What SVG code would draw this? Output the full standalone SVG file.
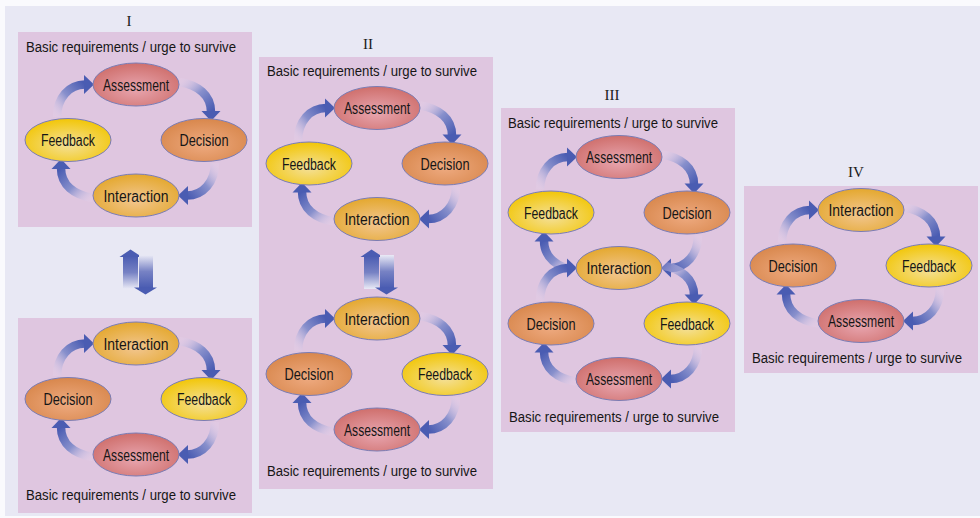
<svg xmlns="http://www.w3.org/2000/svg" xmlns:xlink="http://www.w3.org/1999/xlink" width="980" height="518" viewBox="0 0 980 518">
  <style>
    .lbl { font-family: 'Liberation Sans', Arial, sans-serif; font-size: 16px; fill: #161616; text-anchor: middle; }
    .base { font-family: 'Liberation Sans', Arial, sans-serif; font-size: 13.8px; fill: #161616; }
    .ttl { font-family: 'Liberation Serif', serif; font-size: 15px; fill: #1a1a1a; text-anchor: middle; }
    .panel { fill: #dfc6e0; }
    .node { stroke: #7a7cb4; stroke-width: 1; }
    .as { fill: url(#gAs); }
    .de { fill: url(#gDe); }
    .fe { fill: url(#gFe); }
    .in { fill: url(#gIn); }
    .head { fill: #4a5cb2; }
  </style>
  <defs>
    <radialGradient id="gAs" cx="0.5" cy="0.6" r="0.6">
      <stop offset="0" stop-color="#e8a6b0"/>
      <stop offset="1" stop-color="#cf6f6c"/>
    </radialGradient>
    <radialGradient id="gDe" cx="0.5" cy="0.6" r="0.6">
      <stop offset="0" stop-color="#eeaa80"/>
      <stop offset="1" stop-color="#d8874c"/>
    </radialGradient>
    <radialGradient id="gFe" cx="0.5" cy="0.6" r="0.6">
      <stop offset="0" stop-color="#f4e09a"/>
      <stop offset="1" stop-color="#f2c606"/>
    </radialGradient>
    <radialGradient id="gIn" cx="0.5" cy="0.6" r="0.6">
      <stop offset="0" stop-color="#f2c690"/>
      <stop offset="1" stop-color="#e4a82e"/>
    </radialGradient>
    <!-- curved arrow bands, pale at the tail and solid blue at the head -->
    <linearGradient id="bandA" x1="0" y1="1" x2="1" y2="0">
      <stop offset="0" stop-color="#e6d6ee" stop-opacity="0.2"/>
      <stop offset="0.5" stop-color="#8890cc"/>
      <stop offset="1" stop-color="#4a5cb2"/>
    </linearGradient>
    <linearGradient id="bandB" x1="0" y1="0" x2="1" y2="1">
      <stop offset="0" stop-color="#e6d6ee" stop-opacity="0.2"/>
      <stop offset="0.5" stop-color="#8890cc"/>
      <stop offset="1" stop-color="#4a5cb2"/>
    </linearGradient>
    <linearGradient id="shaftUp" x1="0" y1="0" x2="0" y2="1">
      <stop offset="0" stop-color="#4a5cb2"/>
      <stop offset="0.5" stop-color="#7782c4"/>
      <stop offset="1" stop-color="#eaeaf6"/>
    </linearGradient>
    <linearGradient id="shaftDown" x1="0" y1="0" x2="0" y2="1">
      <stop offset="0" stop-color="#eaeaf6"/>
      <stop offset="0.5" stop-color="#7782c4"/>
      <stop offset="1" stop-color="#4a5cb2"/>
    </linearGradient>
    <!-- arrow from the left node up to the top node -->
    <g id="arrA">
      <path d="M -79,-23 C -79,-42 -67,-55.5 -51,-55.5" fill="none" stroke="url(#bandA)" stroke-width="8.5"/>
      <path class="head" d="M -52,-65 L -42,-55.5 L -52,-46 Z"/>
    </g>
    <!-- arrow from the top node down to the right node -->
    <g id="arrB">
      <path d="M 43,-58 C 62,-55 75,-45 75,-28" fill="none" stroke="url(#bandB)" stroke-width="8.5"/>
      <path class="head" d="M 65.5,-29 L 75,-19 L 84.5,-29 Z"/>
    </g>
    <!-- paired up/down arrows between stacked cycles -->
    <g id="swap">
      <rect x="123" y="256" width="15" height="33" fill="url(#shaftUp)"/>
      <path class="head" d="M 119.5,257 L 130.5,249.5 L 142,257 Z"/>
      <rect x="139" y="255" width="14" height="33" fill="url(#shaftDown)"/>
      <path class="head" d="M 134,287.5 L 145.5,294.5 L 157,287.5 Z"/>
    </g>
  </defs>

  <!-- page -->
  <rect x="0" y="0" width="980" height="518" fill="#fafafd"/>
  <rect x="5" y="6" width="975" height="510" fill="#e8e8f4"/>

  <!-- panels -->
  <g id="panels">
    <rect class="panel" x="18" y="32" width="234" height="195"/>
    <rect class="panel" x="18" y="318" width="234" height="195"/>
    <rect class="panel" x="259" y="57" width="234" height="432"/>
    <rect class="panel" x="501" y="108" width="234" height="324"/>
    <rect class="panel" x="744" y="186" width="234" height="187"/>
  </g>

  <!-- titles and base captions -->
  <g id="captions">
    <text class="ttl" x="129" y="26">I</text>
    <text class="ttl" x="368" y="49">II</text>
    <text class="ttl" x="612" y="100">III</text>
    <text class="ttl" x="856" y="177">IV</text>
    <text class="base" x="26" y="52" textLength="210" lengthAdjust="spacingAndGlyphs">Basic requirements / urge to survive</text>
    <text class="base" x="26" y="500" textLength="210" lengthAdjust="spacingAndGlyphs">Basic requirements / urge to survive</text>
    <text class="base" x="267" y="76" textLength="210" lengthAdjust="spacingAndGlyphs">Basic requirements / urge to survive</text>
    <text class="base" x="267" y="476" textLength="210" lengthAdjust="spacingAndGlyphs">Basic requirements / urge to survive</text>
    <text class="base" x="508" y="128" textLength="210" lengthAdjust="spacingAndGlyphs">Basic requirements / urge to survive</text>
    <text class="base" x="509" y="422" textLength="210" lengthAdjust="spacingAndGlyphs">Basic requirements / urge to survive</text>
    <text class="base" x="752" y="363" textLength="210" lengthAdjust="spacingAndGlyphs">Basic requirements / urge to survive</text>
  </g>

  <!-- connectors -->
  <g id="connectors">
    <use xlink:href="#arrA" transform="translate(136,140)"/>
    <use xlink:href="#arrB" transform="translate(136,140)"/>
    <use xlink:href="#arrA" transform="translate(136,140) rotate(180)"/>
    <use xlink:href="#arrB" transform="translate(136,140) rotate(180)"/>

    <use xlink:href="#arrA" transform="translate(136,399)"/>
    <use xlink:href="#arrB" transform="translate(136,399)"/>
    <use xlink:href="#arrA" transform="translate(136,399) rotate(180)"/>
    <use xlink:href="#arrB" transform="translate(136,399) rotate(180)"/>

    <use xlink:href="#arrA" transform="translate(377,163.5)"/>
    <use xlink:href="#arrB" transform="translate(377,163.5)"/>
    <use xlink:href="#arrA" transform="translate(377,163.5) rotate(180)"/>
    <use xlink:href="#arrB" transform="translate(377,163.5) rotate(180)"/>

    <use xlink:href="#arrA" transform="translate(377,374)"/>
    <use xlink:href="#arrB" transform="translate(377,374)"/>
    <use xlink:href="#arrA" transform="translate(377,374) rotate(180)"/>
    <use xlink:href="#arrB" transform="translate(377,374) rotate(180)"/>

    <use xlink:href="#arrA" transform="translate(619,212.5)"/>
    <use xlink:href="#arrB" transform="translate(619,212.5)"/>
    <use xlink:href="#arrA" transform="translate(619,212.5) rotate(180)"/>
    <use xlink:href="#arrB" transform="translate(619,212.5) rotate(180)"/>

    <use xlink:href="#arrA" transform="translate(619,323.5)"/>
    <use xlink:href="#arrB" transform="translate(619,323.5)"/>
    <use xlink:href="#arrA" transform="translate(619,323.5) rotate(180)"/>
    <use xlink:href="#arrB" transform="translate(619,323.5) rotate(180)"/>

    <use xlink:href="#arrA" transform="translate(861,265.5)"/>
    <use xlink:href="#arrB" transform="translate(861,265.5)"/>
    <use xlink:href="#arrA" transform="translate(861,265.5) rotate(180)"/>
    <use xlink:href="#arrB" transform="translate(861,265.5) rotate(180)"/>

    <use xlink:href="#swap"/>
    <use xlink:href="#swap" transform="translate(241,0)"/>
  </g>

  <!-- panel I, upper cycle -->
  <g id="p1a-assessment"><ellipse class="node as" cx="136" cy="84.5" rx="43" ry="21.5"/><text class="lbl" x="136" y="90.5" textLength="66" lengthAdjust="spacingAndGlyphs">Assessment</text></g>
  <g id="p1a-decision"><ellipse class="node de" cx="204" cy="140" rx="43" ry="21.5"/><text class="lbl" x="204" y="146" textLength="49" lengthAdjust="spacingAndGlyphs">Decision</text></g>
  <g id="p1a-interaction"><ellipse class="node in" cx="136" cy="195.5" rx="43" ry="21.5"/><text class="lbl" x="136" y="201.5" textLength="65" lengthAdjust="spacingAndGlyphs">Interaction</text></g>
  <g id="p1a-feedback"><ellipse class="node fe" cx="68" cy="140" rx="43" ry="21.5"/><text class="lbl" x="68" y="146" textLength="54" lengthAdjust="spacingAndGlyphs">Feedback</text></g>

  <!-- panel I, lower cycle -->
  <g id="p1b-interaction"><ellipse class="node in" cx="136" cy="343.5" rx="43" ry="21.5"/><text class="lbl" x="136" y="349.5" textLength="65" lengthAdjust="spacingAndGlyphs">Interaction</text></g>
  <g id="p1b-feedback"><ellipse class="node fe" cx="204" cy="399" rx="43" ry="21.5"/><text class="lbl" x="204" y="405" textLength="54" lengthAdjust="spacingAndGlyphs">Feedback</text></g>
  <g id="p1b-assessment"><ellipse class="node as" cx="136" cy="454.5" rx="43" ry="21.5"/><text class="lbl" x="136" y="460.5" textLength="66" lengthAdjust="spacingAndGlyphs">Assessment</text></g>
  <g id="p1b-decision"><ellipse class="node de" cx="68" cy="399" rx="43" ry="21.5"/><text class="lbl" x="68" y="405" textLength="49" lengthAdjust="spacingAndGlyphs">Decision</text></g>

  <!-- panel II, upper cycle -->
  <g id="p2a-assessment"><ellipse class="node as" cx="377" cy="108" rx="43" ry="21.5"/><text class="lbl" x="377" y="114" textLength="66" lengthAdjust="spacingAndGlyphs">Assessment</text></g>
  <g id="p2a-decision"><ellipse class="node de" cx="445" cy="163.5" rx="43" ry="21.5"/><text class="lbl" x="445" y="169.5" textLength="49" lengthAdjust="spacingAndGlyphs">Decision</text></g>
  <g id="p2a-interaction"><ellipse class="node in" cx="377" cy="219" rx="43" ry="21.5"/><text class="lbl" x="377" y="225" textLength="65" lengthAdjust="spacingAndGlyphs">Interaction</text></g>
  <g id="p2a-feedback"><ellipse class="node fe" cx="309" cy="163.5" rx="43" ry="21.5"/><text class="lbl" x="309" y="169.5" textLength="54" lengthAdjust="spacingAndGlyphs">Feedback</text></g>

  <!-- panel II, lower cycle -->
  <g id="p2b-interaction"><ellipse class="node in" cx="377" cy="318.5" rx="43" ry="21.5"/><text class="lbl" x="377" y="324.5" textLength="65" lengthAdjust="spacingAndGlyphs">Interaction</text></g>
  <g id="p2b-feedback"><ellipse class="node fe" cx="445" cy="374" rx="43" ry="21.5"/><text class="lbl" x="445" y="380" textLength="54" lengthAdjust="spacingAndGlyphs">Feedback</text></g>
  <g id="p2b-assessment"><ellipse class="node as" cx="377" cy="429.5" rx="43" ry="21.5"/><text class="lbl" x="377" y="435.5" textLength="66" lengthAdjust="spacingAndGlyphs">Assessment</text></g>
  <g id="p2b-decision"><ellipse class="node de" cx="309" cy="374" rx="43" ry="21.5"/><text class="lbl" x="309" y="380" textLength="49" lengthAdjust="spacingAndGlyphs">Decision</text></g>

  <!-- panel III, two cycles sharing Interaction -->
  <g id="p3-assessment-top"><ellipse class="node as" cx="619" cy="157" rx="43" ry="21.5"/><text class="lbl" x="619" y="163" textLength="66" lengthAdjust="spacingAndGlyphs">Assessment</text></g>
  <g id="p3-decision-top"><ellipse class="node de" cx="687" cy="212.5" rx="43" ry="21.5"/><text class="lbl" x="687" y="218.5" textLength="49" lengthAdjust="spacingAndGlyphs">Decision</text></g>
  <g id="p3-feedback-top"><ellipse class="node fe" cx="551" cy="212.5" rx="43" ry="21.5"/><text class="lbl" x="551" y="218.5" textLength="54" lengthAdjust="spacingAndGlyphs">Feedback</text></g>
  <g id="p3-interaction"><ellipse class="node in" cx="619" cy="268" rx="43" ry="21.5"/><text class="lbl" x="619" y="274" textLength="65" lengthAdjust="spacingAndGlyphs">Interaction</text></g>
  <g id="p3-feedback-bottom"><ellipse class="node fe" cx="687" cy="323.5" rx="43" ry="21.5"/><text class="lbl" x="687" y="329.5" textLength="54" lengthAdjust="spacingAndGlyphs">Feedback</text></g>
  <g id="p3-decision-bottom"><ellipse class="node de" cx="551" cy="323.5" rx="43" ry="21.5"/><text class="lbl" x="551" y="329.5" textLength="49" lengthAdjust="spacingAndGlyphs">Decision</text></g>
  <g id="p3-assessment-bottom"><ellipse class="node as" cx="619" cy="379" rx="43" ry="21.5"/><text class="lbl" x="619" y="385" textLength="66" lengthAdjust="spacingAndGlyphs">Assessment</text></g>

  <!-- panel IV -->
  <g id="p4-interaction"><ellipse class="node in" cx="861" cy="210" rx="43" ry="21.5"/><text class="lbl" x="861" y="216" textLength="65" lengthAdjust="spacingAndGlyphs">Interaction</text></g>
  <g id="p4-feedback"><ellipse class="node fe" cx="929" cy="265.5" rx="43" ry="21.5"/><text class="lbl" x="929" y="271.5" textLength="54" lengthAdjust="spacingAndGlyphs">Feedback</text></g>
  <g id="p4-assessment"><ellipse class="node as" cx="861" cy="321" rx="43" ry="21.5"/><text class="lbl" x="861" y="327" textLength="66" lengthAdjust="spacingAndGlyphs">Assessment</text></g>
  <g id="p4-decision"><ellipse class="node de" cx="793" cy="265.5" rx="43" ry="21.5"/><text class="lbl" x="793" y="271.5" textLength="49" lengthAdjust="spacingAndGlyphs">Decision</text></g>
</svg>
